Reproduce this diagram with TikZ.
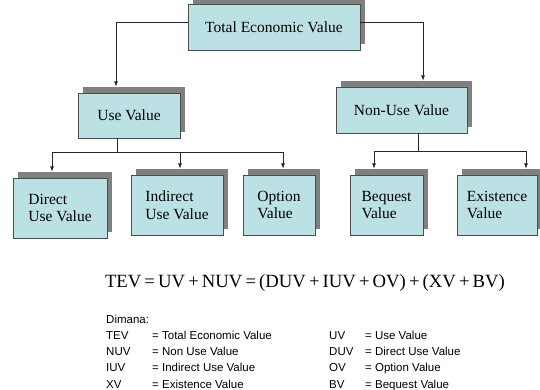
\documentclass[tikz,border=0pt]{standalone}
\usepackage{fontspec}
\setmainfont{Liberation Serif}
\newfontfamily\legendfont{Liberation Sans}
\usetikzlibrary{shadows}
\definecolor{boxblue}{HTML}{BCE1E4}
\tikzset{
  rect/.style={fill=boxblue, draw=black!70, line width=0.8pt, inner sep=0pt,
    align=left, font=\fontsize{15.5}{17.5}\selectfont,
    drop shadow={shadow xshift=5pt, shadow yshift=6pt, fill=black!50, opacity=1}},
  link/.style={draw=black!85, line width=0.8pt}
}

\begin{document}
\begin{tikzpicture}[x=1pt, y=-1pt]
  \useasboundingbox (0,0) rectangle (540,390);

  \node[rect, minimum width=172pt, minimum height=46pt] at (274,27) (tev) {Total Economic Value};
  \node[rect, minimum width=102pt, minimum height=45pt] at (129,115.5) (use) {Use Value};
  \node[rect, minimum width=131pt, minimum height=46pt] at (401.5,110) (nonuse) {Non-Use Value};

  \node[rect, minimum width=94pt, minimum height=60pt] at (60,208) (direct) {Direct\\Use Value};
  \node[rect, minimum width=92pt, minimum height=60pt] at (177,205) (indirect) {Indirect\\Use Value};
  \node[rect, minimum width=72pt, minimum height=60pt] at (279,205) (option) {Option\\Value};
  \node[rect, minimum width=73pt, minimum height=60pt] at (386.5,205) (bequest) {Bequest\\Value};
  \node[rect, minimum width=80pt, minimum height=60pt] at (497,205) (existence) {Existence\\Value};

  \coordinate (use_bar) at (117,152);
  \coordinate (nonuse_bar) at (418,151);

  \path[link, -latex] ([yshift=5pt]tev.west) -| ([xshift=-13pt, yshift=6pt]use.north);
  \path[link, -latex] ([yshift=5pt]tev.east) -| ([xshift=21.5pt, yshift=6pt]nonuse.north);

  \path[link] ([xshift=-12pt]use.south) -- (use_bar);
  \path[link, -latex] (use_bar) -| ([xshift=-8pt, yshift=6pt]direct.north);
  \path[link, -latex] (use_bar) -| ([xshift=3pt, yshift=6pt]indirect.north);
  \path[link, -latex] (use_bar) -| ([xshift=4pt, yshift=6pt]option.north);

  \path[link] ([xshift=16.5pt]nonuse.south) -- (nonuse_bar);
  \path[link, -latex] (nonuse_bar) -| ([xshift=-12.5pt, yshift=6pt]bequest.north);
  \path[link, -latex] (nonuse_bar) -| ([xshift=29pt, yshift=6pt]existence.north);

  \node[anchor=base, inner sep=0pt, font=\fontsize{18.7}{22}\selectfont] at (305,287) (formula)
    {TEV\,=\,UV\,+\,NUV\,=\,(DUV\,+\,IUV\,+\,OV)\,+\,(XV\,+\,BV)};

  \node[anchor=base west, inner sep=0pt, font=\legendfont\fontsize{11.5}{16.3}\selectfont] at (106,323) (legend) {
    \begin{tabular}[t]{@{}p{46pt}@{}p{177pt}@{}p{36pt}@{}l@{}}
      Dimana: & & & \\
      TEV & = Total Economic Value & UV & = Use Value \\
      NUV & = Non Use Value & DUV & = Direct Use Value \\
      IUV & = Indirect Use Value & OV & = Option Value \\
      XV & = Existence Value & BV & = Bequest Value
    \end{tabular}
  };
\end{tikzpicture}
\end{document}
